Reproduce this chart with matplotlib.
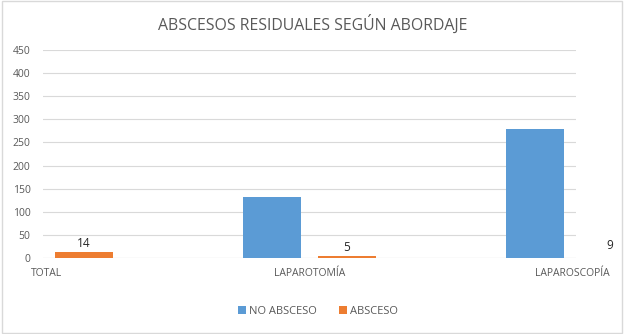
import matplotlib
matplotlib.use("Agg")
import matplotlib.pyplot as plt
from matplotlib.patches import Rectangle
import numpy as np

categories = ["TOTAL", "LAPAROTOMÍA", "LAPAROSCOPÍA"]
no_absceso = [412, 133, 279]
absceso = [14, 5, 9]
series_names = ["NO ABSCESO", "ABSCESO"]
yticks = [0, 50, 100, 150, 200, 250, 300, 350, 400, 450]

BLUE = "#5B9BD5"
ORANGE = "#ED7D31"
GRAY = "#595959"

plt.rcParams['font.family'] = ['Open Sans', 'DejaVu Sans']

fig = plt.figure(figsize=(6.24, 3.34), dpi=100)
fig.patches.append(Rectangle((0.003, 0.003), 0.994, 0.994, transform=fig.transFigure,
                             fill=False, edgecolor="#D9D9D9", linewidth=1))
ax = fig.add_axes([43/624, 76/334, (576-43)/624, 208/334])

x = np.arange(len(categories))
w = 0.22
off = 0.1426
ax.bar(x - off, no_absceso, width=w, color=BLUE, label=series_names[0], zorder=3)
ax.bar(x + off, absceso, width=w, color=ORANGE, label=series_names[1], zorder=3)
for xi, v in zip(x, absceso):
    ax.text(xi + off, v + 4, str(v), ha="center", va="bottom", fontsize=8.5,
            color="#262626", clip_on=False)

ax.set_xlim(-0.0133, 2.013)
ax.set_ylim(0, 450)
ax.set_yticks(yticks)
ax.set_xticks(x)
ax.set_xticklabels(categories)
ax.tick_params(axis="both", length=0, labelsize=7.5, labelcolor=GRAY)
ax.tick_params(axis="x", pad=7)
ax.tick_params(axis="y", pad=9)
ax.grid(axis="y", color="#D9D9D9", linewidth=0.8, zorder=0)
for s in ax.spines.values():
    s.set_visible(False)
ax.axhline(0, color="#D9D9D9", linewidth=0.8, zorder=2)

fig.text(313/624, 1 - 24/334, "ABSCESOS RESIDUALES SEGÚN ABORDAJE", ha="center", va="center",
         fontsize=11.4, color=GRAY)

leg = fig.legend(loc="center", bbox_to_anchor=(318/624, 1 - 311/334), ncol=2, frameon=False,
                 fontsize=8, handlelength=0.7, handleheight=0.7, handletextpad=0.3,
                 columnspacing=2.0)
for t in leg.get_texts():
    t.set_color(GRAY)

fig.savefig("out.png", dpi=100)
